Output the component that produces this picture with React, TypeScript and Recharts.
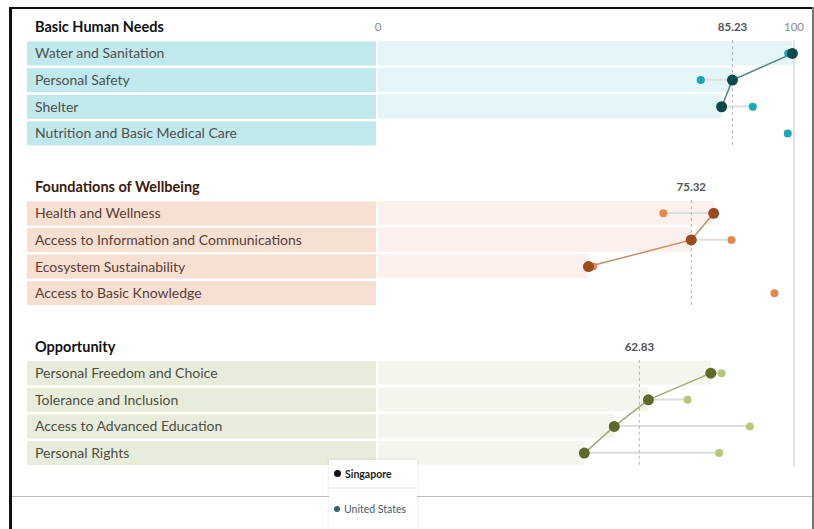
import {
  Bar,
  Cell,
  ComposedChart,
  Legend,
  Line,
  ReferenceLine,
  XAxis,
  YAxis,
} from "recharts";

const groupNames = ["Basic Human Needs", "Foundations of Wellbeing", "Opportunity"];
const groupAverages = [85.23, 75.32, 62.83];

const basicNeedsCategories = [
  "Water and Sanitation",
  "Personal Safety",
  "Shelter",
  "Nutrition and Basic Medical Care",
];
const basicNeedsSingapore = [99.6, 85.2, 82.6, null];
const basicNeedsUS = [98.6, 77.6, 90.1, 98.5];

const wellbeingCategories = [
  "Health and Wellness",
  "Access to Information and Communications",
  "Ecosystem Sustainability",
  "Access to Basic Knowledge",
];
const wellbeingSingapore = [80.7, 75.3, 50.6, null];
const wellbeingUS = [68.6, 85.0, 51.7, 95.3];

const opportunityCategories = [
  "Personal Freedom and Choice",
  "Tolerance and Inclusion",
  "Access to Advanced Education",
  "Personal Rights",
];
const opportunitySingapore = [80.0, 65.0, 56.8, 49.6];
const opportunityUS = [82.6, 74.4, 89.4, 82.0];

const xTicks = [0, 100];
const legendNames = ["Singapore", "United States"];
const legendColors = ["#111111", "#2f6471"];

const palettes = [
  { title: "#111111", text: "#505050", label: "#bfe9ec", band: "#e3f5f7", sg: "#0b4a4c", us: "#1aaab6", line: "#4f8787" },
  { title: "#3a1c0c", text: "#5a4036", label: "#f7dfd2", band: "#fbf0eb", sg: "#9b4a1b", us: "#e3884e", line: "#c78d66" },
  { title: "#111111", text: "#4d4d40", label: "#e8eddb", band: "#f4f6ee", sg: "#5b6a28", us: "#b4c97a", line: "#9fac79" },
];

const groups = [
  { categories: basicNeedsCategories, sg: basicNeedsSingapore, us: basicNeedsUS },
  { categories: wellbeingCategories, sg: wellbeingSingapore, us: wellbeingUS },
  { categories: opportunityCategories, sg: opportunitySingapore, us: opportunityUS },
];

type Row = {
  key: string;
  kind: "header" | "row" | "gap";
  group: number;
  band?: number | null;
  seg?: [number, number] | null;
  [k: string]: unknown;
};

const rows: Row[] = [];
groups.forEach((g, gi) => {
  rows.push({ key: groupNames[gi], kind: "header", group: gi });
  g.categories.forEach((c, i) => {
    const sg = g.sg[i];
    const us = g.us[i];
    rows.push({
      key: c,
      kind: "row",
      group: gi,
      band: sg,
      seg: sg != null && us != null ? [Math.min(sg, us), Math.max(sg, us)] : null,
      [`sg${gi}`]: sg,
      [`us${gi}`]: us,
    });
  });
  if (gi < groups.length - 1) rows.push({ key: `gap${gi}`, kind: "gap", group: gi });
});

const lastCategory = groups[groups.length - 1].categories.slice(-1)[0];

function RowTick(props: any) {
  const { y, payload } = props;
  const row = rows.find((r) => r.key === payload.value);
  if (!row || row.kind === "gap") return <g />;
  const p = palettes[row.group];
  if (row.kind === "header") {
    return (
      <text x={35} y={y} dy={5} fontSize={14.5} fontWeight={700} fill={p.title}>
        {row.key}
      </text>
    );
  }
  return (
    <g>
      <rect x={27} y={y - 12} width={349} height={24} fill={p.label} />
      <text x={35} y={y} dy={5} fontSize={14} fill={p.text}>
        {row.key}
      </text>
    </g>
  );
}

function TopTick(props: any) {
  const { x, y, payload } = props;
  return (
    <text x={x} y={y + 17} textAnchor="middle" fontSize={11.5} fill="#8a8a8a">
      {payload.value}
    </text>
  );
}

function LegendBox() {
  return (
    <div
      style={{
        background: "#fff",
        height: 69,
        boxShadow: "0 0 3px rgba(0,0,0,0.12)",
        fontFamily: "Lato, sans-serif",
        fontSize: 10.5,
      }}
    >
      {legendNames.map((name, i) => (
        <div
          key={name}
          style={{
            height: i === 0 ? 27 : 40,
            display: "flex",
            alignItems: "center",
            paddingLeft: 5,
            borderTop: i === 0 ? "none" : "2px solid #f0f0f0",
            color: i === 0 ? "#222" : "#4a6070",
            fontWeight: i === 0 ? 700 : 400,
          }}
        >
          <span
            style={{
              display: "inline-block",
              width: i === 0 ? 7 : 6,
              height: i === 0 ? 7 : 6,
              borderRadius: "50%",
              background: legendColors[i],
              marginRight: 4,
            }}
          />
          {name}
        </div>
      ))}
    </div>
  );
}

export default function App() {
  return (
    <div
      style={{
        position: "absolute",
        left: 0,
        top: 0,
        width: 814,
        height: 529,
        background: "#fff",
        fontFamily: "Lato, sans-serif",
      }}
    >
      <div style={{ position: "absolute", left: 10, top: 7, width: 804, height: 2, background: "#111" }} />
      <div style={{ position: "absolute", left: 9, top: 7, width: 3, height: 522, background: "#111" }} />
      <div style={{ position: "absolute", left: 812, top: 7, width: 2, height: 522, background: "#777" }} />
      <div style={{ position: "absolute", left: 12, top: 496, width: 800, height: 1, background: "#bbb" }} />
      <div style={{ position: "absolute", left: 0, top: 0 }}>
        <ComposedChart
          width={814}
          height={529}
          layout="vertical"
          data={rows}
          margin={{ top: 0, right: 20, bottom: 62.6, left: 0 }}
        >
          <XAxis
            type="number"
            domain={[0, 100]}
            ticks={xTicks}
            orientation="top"
            height={13.5}
            tickSize={0}
            tickMargin={0}
            axisLine={false}
            tickLine={false}
            tick={<TopTick />}
          />
          <YAxis
            yAxisId="main"
            type="category"
            dataKey="key"
            width={378}
            interval={0}
            axisLine={false}
            tickLine={false}
            tick={<RowTick />}
          />
          <YAxis yAxisId="seg" type="category" dataKey="key" hide />

          <Bar yAxisId="main" dataKey="band" barSize={24} isAnimationActive={false} legendType="none">
            {rows.map((r) => (
              <Cell key={r.key} fill={palettes[r.group].band} />
            ))}
          </Bar>
          <Bar yAxisId="seg" dataKey="seg" barSize={2} fill="#dedede" isAnimationActive={false} legendType="none" />

          <ReferenceLine
            yAxisId="main"
            segment={[
              { x: 100, y: groupNames[0] },
              { x: 100, y: lastCategory },
            ]}
            position="end"
            stroke="#dddddd"
            strokeWidth={1.5}
          />
          {groupAverages.map((avg, gi) => (
            <ReferenceLine
              key={groupNames[gi]}
              yAxisId="main"
              segment={[
                { x: avg, y: groupNames[gi] },
                { x: avg, y: groups[gi].categories.slice(-1)[0] },
              ]}
              position="end"
              stroke="#b5b5b5"
              strokeDasharray="3 3"
              label={{
                value: avg.toFixed(2),
                position: "top",
                offset: 9,
                fill: "#555",
                fontSize: 11.5,
                fontWeight: 700,
              }}
            />
          ))}

          {groups.map((_, gi) => (
            <Line
              key={`us${gi}`}
              yAxisId="main"
              dataKey={`us${gi}`}
              stroke="none"
              dot={{ r: 4, fill: palettes[gi].us, stroke: palettes[gi].us, strokeWidth: 0 }}
              activeDot={false}
              isAnimationActive={false}
              legendType="none"
            />
          ))}
          {groups.map((_, gi) => (
            <Line
              key={`sg${gi}`}
              yAxisId="main"
              dataKey={`sg${gi}`}
              stroke={palettes[gi].line}
              strokeWidth={1.5}
              dot={{ r: 5.5, fill: palettes[gi].sg, stroke: palettes[gi].sg, strokeWidth: 0 }}
              activeDot={false}
              isAnimationActive={false}
              legendType="none"
            />
          ))}

          <Legend
            layout="horizontal"
            verticalAlign="middle"
            align="center"
            content={<LegendBox />}
            wrapperStyle={{ position: "absolute", left: 329, top: 460, width: 88, height: 69 }}
          />
        </ComposedChart>
      </div>
    </div>
  );
}
